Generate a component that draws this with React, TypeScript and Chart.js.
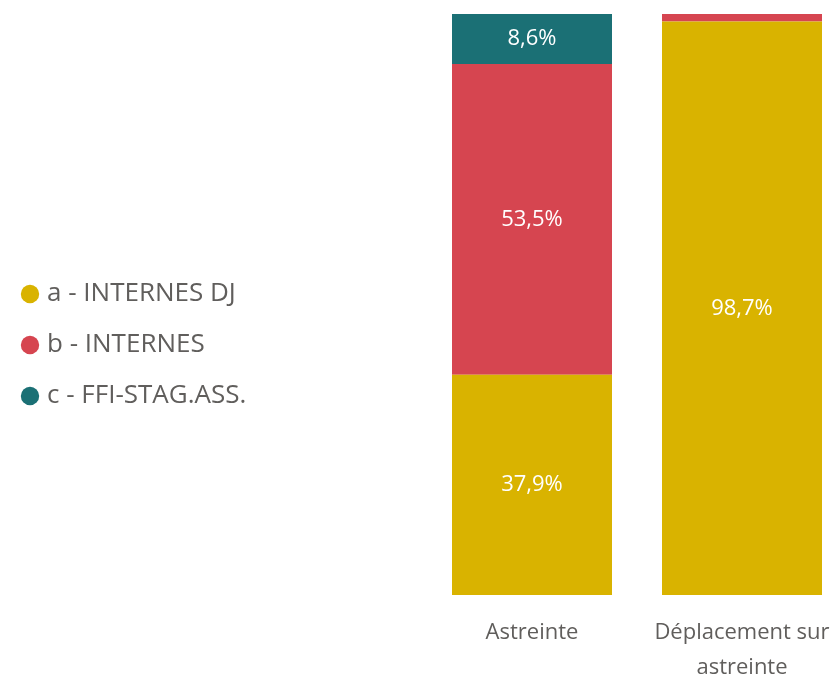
import React, { useEffect, useRef } from "react";
import { Chart, registerables } from "chart.js";

Chart.register(...registerables);

const categories: (string | string[])[] = ["Astreinte", ["Déplacement sur", "astreinte"]];
const seriesNames = ["a - INTERNES DJ", "b - INTERNES", "c - FFI-STAG.ASS."];
const seriesA = [37.9, 98.7];
const seriesB = [53.5, 1.3];
const seriesC = [8.6, 0];
const colors = ["#D9B300", "#D64550", "#1B7075"];

const FONT = "'Segoe UI', 'Open Sans', sans-serif";
const TEXT_COLOR = "#605E5C";

const fmt = (v: number) => v.toFixed(1).replace(".", ",") + "%";

const dataLabelPlugin = {
  id: "dataLabels",
  afterDatasetsDraw(chart: any) {
    const ctx = chart.ctx;
    ctx.save();
    ctx.fillStyle = "#FFFFFF";
    ctx.font = `22px ${FONT}`;
    ctx.textAlign = "center";
    ctx.textBaseline = "middle";
    chart.data.datasets.forEach((ds: any, i: number) => {
      const meta = chart.getDatasetMeta(i);
      meta.data.forEach((bar: any, j: number) => {
        const v = ds.data[j];
        if (v < 5) return;
        const { x, y, base } = bar.getProps(["x", "y", "base"], true);
        ctx.fillText(fmt(v), x, (y + base) / 2);
      });
    });
    ctx.restore();
  },
};

export default function App() {
  const ref = useRef<HTMLCanvasElement>(null);
  useEffect(() => {
    if (!ref.current) return;
    const chart = new Chart(ref.current, {
      type: "bar",
      data: {
        labels: categories,
        datasets: [seriesA, seriesB, seriesC].map((d, i) => ({
          label: seriesNames[i],
          data: d,
          backgroundColor: colors[i],
          borderWidth: 0,
          categoryPercentage: 1,
          barPercentage: 160 / 210,
        })),
      },
      options: {
        animation: false,
        responsive: false,
        layout: { padding: { left: 1, top: 14, right: 6, bottom: 0 } },
        plugins: {
          tooltip: { enabled: false },
          legend: {
            position: "left",
            maxWidth: 400,
            labels: {
              usePointStyle: true,
              pointStyle: "circle",
              boxWidth: 8,
              boxHeight: 13,
              padding: 25,
              color: TEXT_COLOR,
              font: { family: FONT, size: 26 },
            },
          },
        },
        scales: {
          x: {
            stacked: true,
            grid: { display: false, drawTicks: false },
            border: { display: false },
            ticks: {
              color: TEXT_COLOR,
              font: { family: FONT, size: 22, lineHeight: 1.6 },
              padding: 20,
              maxRotation: 0,
            },
            afterFit: (scale: any) => {
              scale.height = 676 - 595;
            },
          },
          y: {
            stacked: true,
            min: 0,
            max: 100,
            grid: { display: false, drawTicks: false },
            border: { display: false },
            ticks: { display: false },
            afterFit: (scale: any) => {
              const lw = scale.chart.legend ? scale.chart.legend.width : 0;
              scale.width = Math.max(0, 427 - 1 - lw);
            },
          },
        },
      },
      plugins: [dataLabelPlugin],
    });
    return () => chart.destroy();
  }, []);
  return (
    <div style={{ position: "fixed", left: 0, top: 0, width: 840, height: 676, overflow: "hidden", background: "#fff" }}>
      <canvas ref={ref} width={853} height={676} style={{ display: "block" }} />
    </div>
  );
}
